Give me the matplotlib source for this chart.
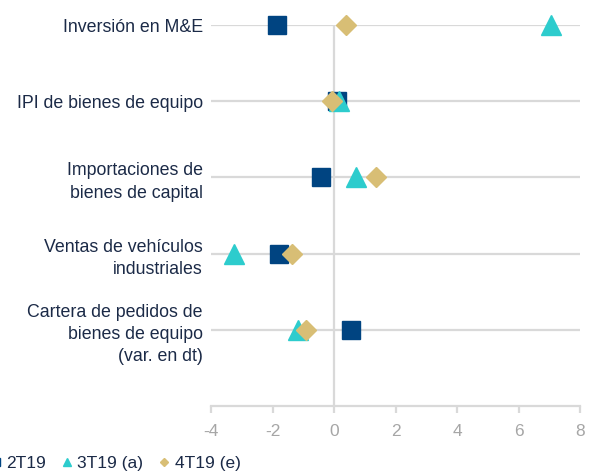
import matplotlib
matplotlib.use("Agg")
import matplotlib.pyplot as plt

# ── Data ──────────────────────────────────────────────────
categories = [
    "Inversión en M&E",
    "IPI de bienes de equipo",
    "Importaciones de\nbienes de capital",
    "Ventas de vehículos\nindustriales",
    "Cartera de pedidos de\nbienes de equipo\n(var. en dt)",
]
y_pos = [5, 4, 3, 2, 1]

s_2t19 = [-1.86, 0.10, -0.43, -1.79, 0.55]
s_3t19 = [7.06, 0.15, 0.70, -3.25, -1.18]
s_4t19 = [0.39, -0.05, 1.36, -1.38, -0.91]

series_names = ["2T19", "3T19 (a)", "4T19 (e)"]
x_ticks = [-4, -2, 0, 2, 4, 6, 8]

# ── Style ─────────────────────────────────────────────────
NAVY = "#004481"
AQUA = "#2DCCCD"
SAND = "#D8BE75"
TEXT = "#1B2A47"
GRID = "#D9D9D9"
TICK = "#A6A6A6"

plt.rcParams["font.family"] = ["Liberation Sans", "DejaVu Sans"]
plt.rcParams["font.size"] = 12

W, H = 595, 474
fig = plt.figure(figsize=(W / 100, H / 100), dpi=100)
ax = fig.add_axes([211 / W, 68 / H, (580 - 211) / W, (406 - 25) / H])

ax.set_xlim(-4, 8)
ax.set_ylim(0, 5)

# gridlines and zero line
for y in y_pos:
    ax.axhline(y, color=GRID, lw=1.6, zorder=1)
ax.plot([0, 0], [0, 5], color=GRID, lw=1.6, zorder=1, solid_capstyle="butt")

ax.plot(s_2t19, y_pos, ls="none", marker="s", ms=13, color=NAVY,
        label=series_names[0], zorder=3, clip_on=False)
ax.plot(s_3t19, y_pos, ls="none", marker="^", ms=14, color=AQUA,
        label=series_names[1], zorder=4, clip_on=False)
ax.plot(s_4t19, y_pos, ls="none", marker="D", ms=10, color=SAND,
        label=series_names[2], zorder=5, clip_on=False)

# axes styling
for side in ["top", "right", "left"]:
    ax.spines[side].set_visible(False)
ax.spines["bottom"].set_color(GRID)
ax.spines["bottom"].set_linewidth(1.6)
ax.set_xticks(x_ticks)
ax.set_xticklabels([str(t) for t in x_ticks])
ax.tick_params(axis="x", colors=GRID, length=5, width=1.6, pad=8,
               labelcolor=TICK, labelsize=12.5)

ax.set_yticks(y_pos)
ax.set_yticklabels(categories, color=TEXT, fontsize=12.8, linespacing=1.4)
ax.tick_params(axis="y", length=0, pad=6)

fig.legend(loc="center left", bbox_to_anchor=(-11 / W, 11 / H),
           ncol=3, frameon=False, fontsize=12.5, labelcolor=TEXT,
           handlelength=0.8, handletextpad=0.2, columnspacing=0.8,
           borderpad=0, borderaxespad=0, markerscale=0.45)

fig.savefig("out.png", dpi=100)
